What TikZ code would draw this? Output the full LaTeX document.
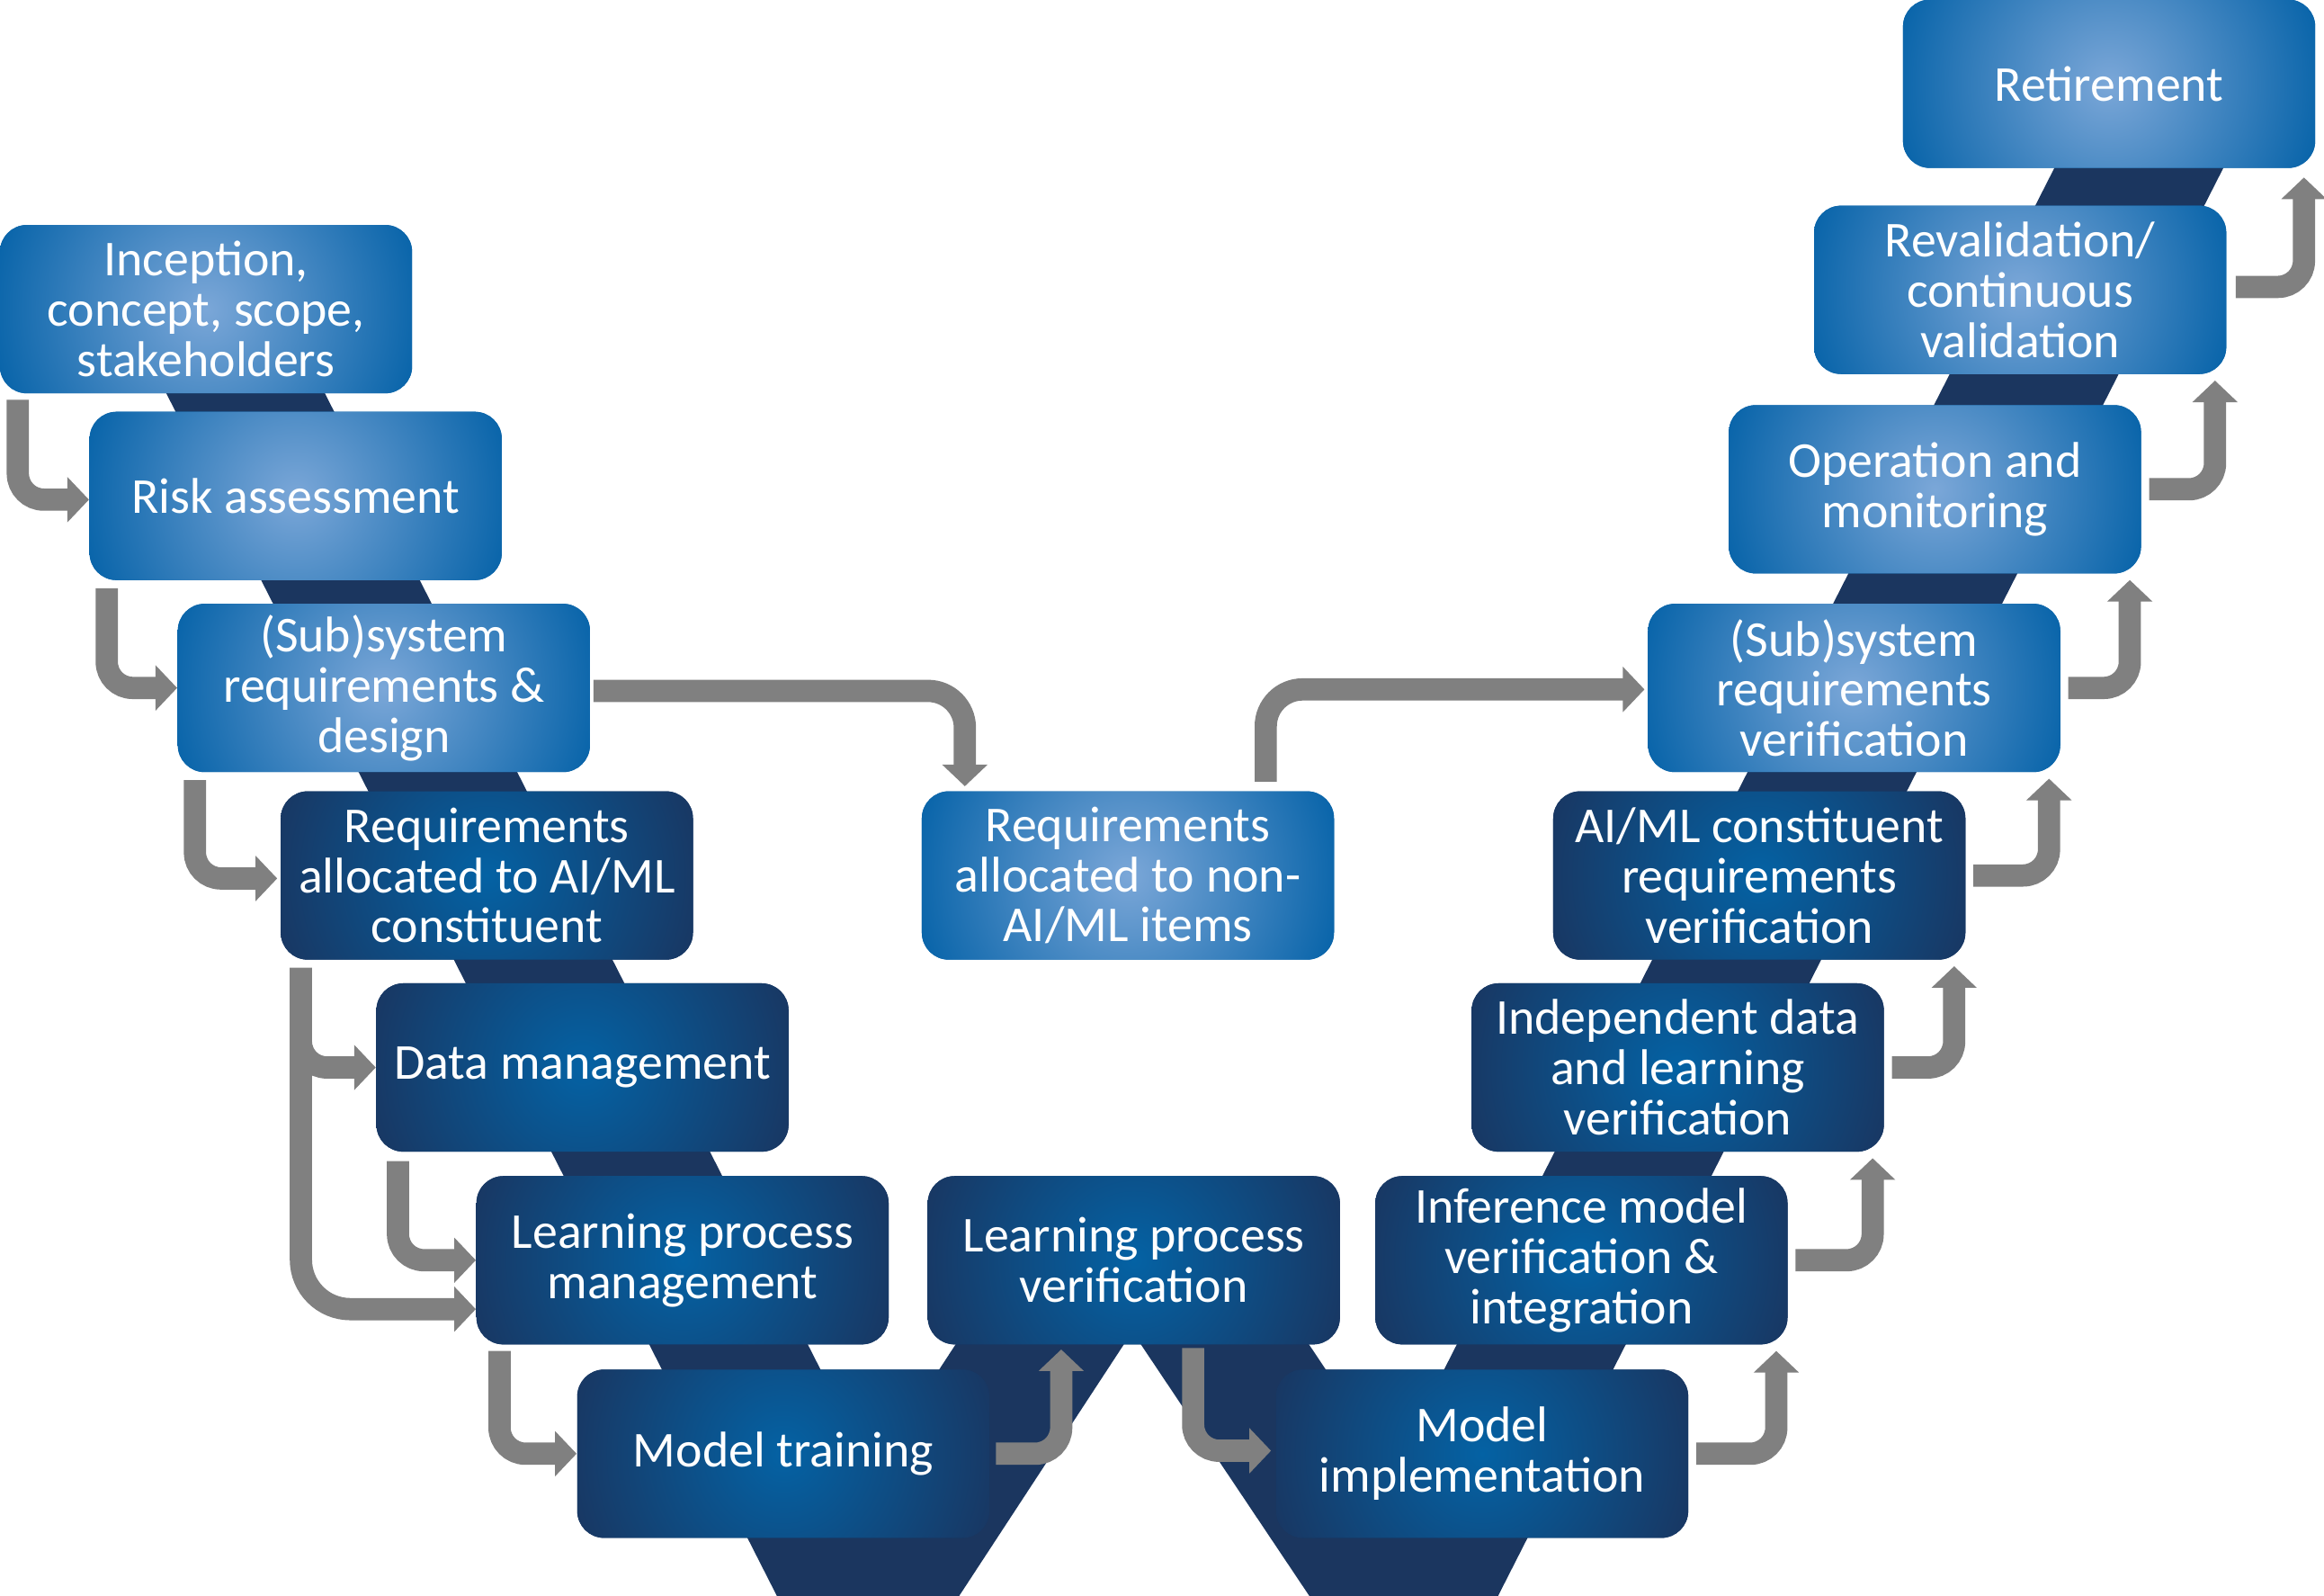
\documentclass[tikz,border=0pt]{standalone}
\usepackage{fontspec}
\setmainfont{Carlito}
\usetikzlibrary{arrows.meta,calc}
\definecolor{lightC}{RGB}{123,167,216}
\definecolor{lightE}{RGB}{10,101,170}
\definecolor{darkC}{RGB}{4,98,164}
\definecolor{darkE}{RGB}{24,56,100}
\definecolor{bandC}{RGB}{27,54,95}
\definecolor{arrC}{RGB}{128,128,128}
\begin{document}
\begin{tikzpicture}[x=0.0165cm,y=-0.0165cm,
  font=\fontsize{15.9}{15.9}\selectfont,
  box/.style={rounded corners=0.3cm, minimum width=4.587cm, minimum height=1.873cm,
    inner sep=0pt, align=center, text=white},
  lbox/.style={box, fill=lightE, path picture={\shade[inner color=lightC, outer color=lightE]
    ([shift={(-145,-145)}]path picture bounding box.center) rectangle
    ([shift={(145,145)}]path picture bounding box.center);}},
  dbox/.style={box, fill=darkE, path picture={\shade[inner color=darkC, outer color=darkE]
    ([shift={(-145,-145)}]path picture bounding box.center) rectangle
    ([shift={(145,145)}]path picture bounding box.center);}},
  arr/.style={draw=arrC, line width=0.2475cm, rounded corners=0.29cm,
    -{Triangle[length=0.24cm,width=0.49cm]}},
  bigarr/.style={arr, rounded corners=0.41cm},
  band/.style={fill=bandC}
]
\useasboundingbox (0,0) rectangle (1568,1076);
\fill[white] (0,0) rectangle (1568,1076);

% W-shaped band
\begin{scope}
\clip (0,0) rectangle (1568,1076);
\fill[band] (63.8,170) -- (170.8,170) -- (653.3,1120) -- (546.3,1120) -- cycle;
\fill[band] (1428.4,30) -- (1542.4,30) -- (988.6,1120) -- (874.6,1120) -- cycle;
\fill[band] (675.4,860) -- (788.9,860) -- (618.6,1120) -- (505.1,1120) -- cycle;
\fill[band] (738.4,860) -- (851.8,860) -- (1026,1120) -- (912.6,1120) -- cycle;
\end{scope}

% Left branch
\node[lbox] (Inc) at (139,208.5) {Inception,\\concept, scope,\\stakeholders};
\node[lbox] (Risk) at (199.5,334.5) {Risk assessment};
\node[lbox] (Sub) at (259,464) {(Sub)system\\requirements \&\\design};
\node[dbox] (ReqAI) at (328.5,590.5) {Requirements\\allocated to AI/ML\\constituent};
\node[dbox] (Data) at (393,720) {Data management};
\node[dbox] (LPM) at (460.5,850) {Learning process\\management};
\node[dbox] (MT) at (528.5,980.5) {Model training};
% Middle
\node[lbox] (ReqNon) at (761,590.5) {Requirements\\allocated to non-\\AI/ML items};
\node[dbox] (LPV) at (765,850) {Learning process\\verification};
% Right branch
\node[dbox] (MI) at (1000,980.5) {Model\\implementation};
\node[dbox] (Inf) at (1067,850) {Inference model\\verification \&\\integration};
\node[dbox] (Indep) at (1132,720) {Independent data\\and learning\\verification};
\node[dbox] (AIMLV) at (1187,590.5) {AI/ML constituent\\requirements\\verification};
\node[lbox] (SSV) at (1251,464) {(Sub)system\\requirements\\verification};
\node[lbox] (Op) at (1305.5,330) {Operation and\\monitoring};
\node[lbox] (Reval) at (1363,195.5) {Revalidation/\\continuous\\validation};
\node[lbox] (Ret) at (1423,56.5) {Retirement};

% Left arrows
\draw[arr] ([shift={(12.5,4)}]Inc.south west) |- ([shift={(0,2.5)}]Risk.west);
\draw[arr] ([shift={(12,5)}]Risk.south west) |- (Sub.west);
\draw[arr] ([shift={(12,5)}]Sub.south west) |- ([shift={(-2,2)}]ReqAI.west);
\coordinate (trunk) at ([shift={(14,5)}]ReqAI.south west);
\draw[arr, rounded corners=0.55cm] (trunk) |- ([shift={(0,33)}]LPM.west);
\draw[arr] ($(trunk|-Data.west)+(0,-30)$) |- (Data.west);
\draw[arr] ([shift={(15,6)}]Data.south west) |- (LPM.west);
\draw[arr] ([shift={(16,4)}]LPM.south west) |- (MT.west);

% Middle arrows
\draw[arr] ([shift={(4,0)}]MT.east) -| ([shift={(-49,3)}]LPV.south);
\draw[arr] ([shift={(40,2)}]LPV.south) |- ([shift={(-3,-2)}]MI.west);
\draw[bigarr] ([shift={(2,2)}]Sub.east) -| ([shift={(-110,-3)}]ReqNon.north);
\draw[bigarr] ([shift={(93,-6)}]ReqNon.north) |- ([shift={(-2,1)}]SSV.west);

% Right arrows
\draw[arr] ([shift={(5,0)}]MI.east) -| ([shift={(-8,4)}]Inf.south east);
\draw[arr] ([shift={(5,0)}]Inf.east) -| ([shift={(-8,4)}]Indep.south east);
\draw[arr] ([shift={(5,0)}]Indep.east) -| ([shift={(-8,4)}]AIMLV.south east);
\draw[arr] ([shift={(5,0)}]AIMLV.east) -| ([shift={(-8,4)}]SSV.south east);
\draw[arr] ([shift={(5,0)}]SSV.east) -| ([shift={(-8,4)}]Op.south east);
\draw[arr] ([shift={(5,0)}]Op.east) -| ([shift={(-8,4)}]Reval.south east);
\draw[arr] ([shift={(6,-2)}]Reval.east) -| ([shift={(-8,6)}]Ret.south east);
\end{tikzpicture}
\end{document}
